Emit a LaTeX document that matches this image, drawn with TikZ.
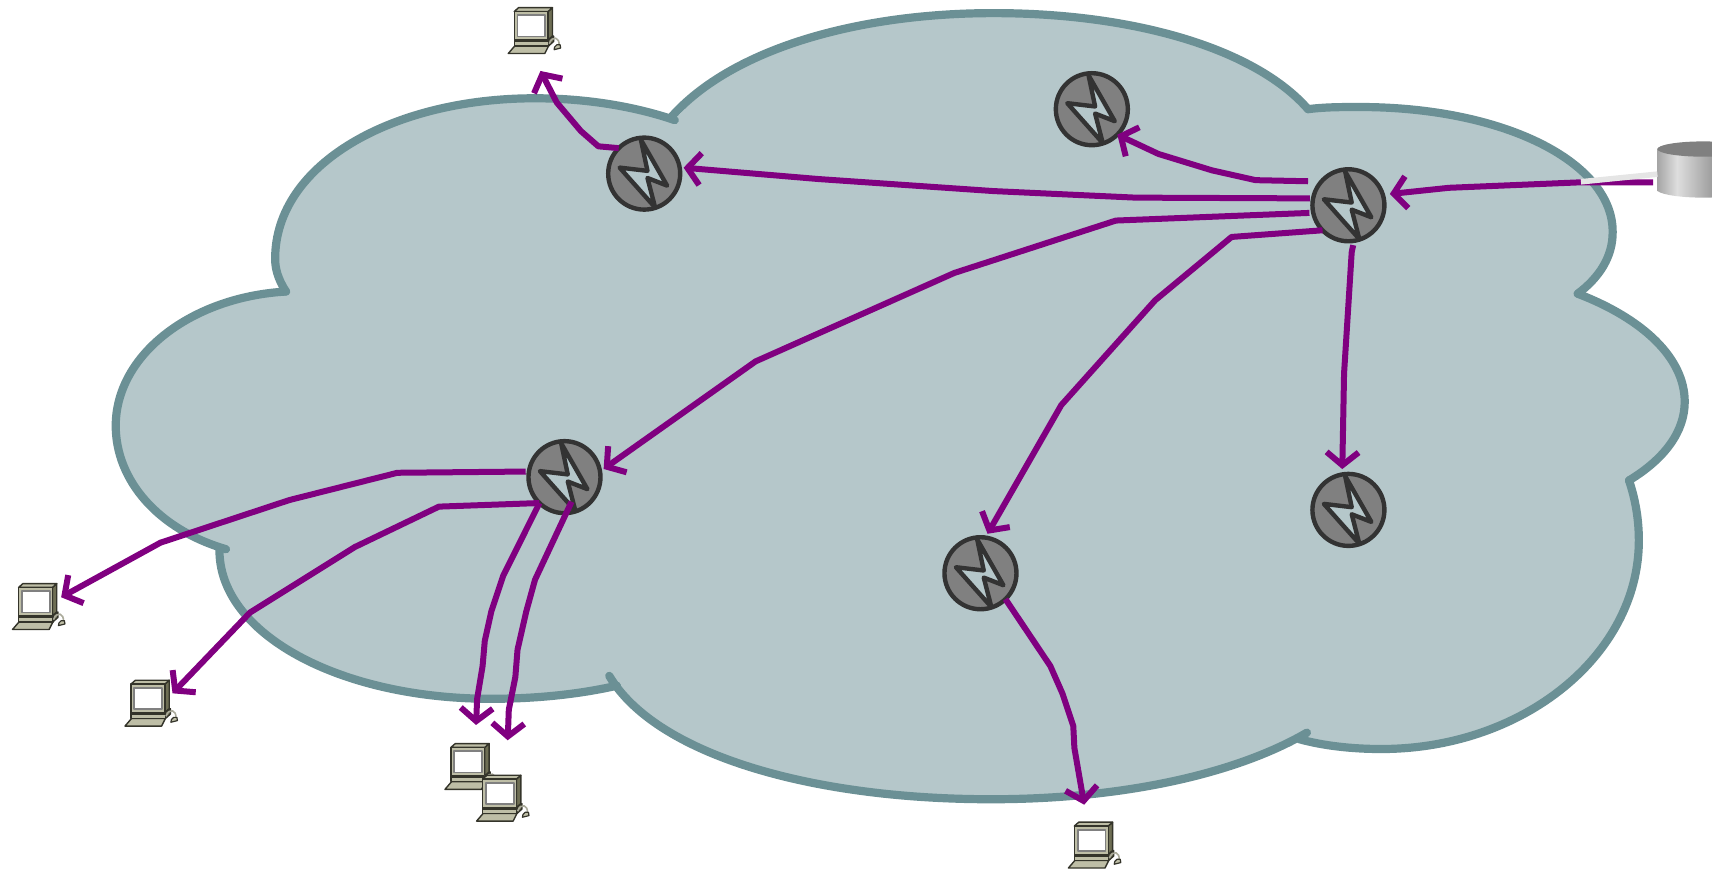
\documentclass[tikz,border=0pt]{standalone}
\usetikzlibrary{arrows.meta}
\definecolor{cloudfill}{HTML}{B5C7CA}
\definecolor{cloudline}{HTML}{6B9095}
\definecolor{link}{HTML}{800080}
\definecolor{routerfill}{HTML}{808080}
\definecolor{routerline}{HTML}{333333}
\definecolor{pcfront}{HTML}{BEBEA6}
\definecolor{pcside}{HTML}{6E6E54}
\definecolor{pcdark}{HTML}{34342A}
\tikzset{
  x=0.5459pt,y=-0.5459pt,
  lobe/.style={draw=cloudline,line width=4.1pt,line cap=round,line join=round},
  linkarrow/.style={draw=link,line width=3pt,line join=round,-{Straight Barb[length=6.5pt,width=16pt]}},
  routernode/.style={circle,draw=routerline,fill=routerfill,line width=2.2pt,minimum size=36pt,inner sep=0pt,outer sep=0pt},
  pcnode/.style={rectangle,minimum width=25.6pt,minimum height=23pt,inner sep=0pt,outer sep=0pt},
  pics/bolt/.style={code={
    \draw[routerline,fill=cloudfill,line width=2.2pt,line join=round]
      (-3,-31) -- (3,-2.5) -- (-22.5,-5.5) -- (10,31) -- (3,4) -- (21,11) -- cycle;
  }},
  pics/pcicon/.style={code={
    \begin{scope}[line width=0.7pt,draw=pcdark,line join=round]
      % keyboard
      \filldraw[fill=pcfront] (-23.5,21) -- (-17.5,14) -- (13.5,14) -- (10,21) -- cycle;
      % base
      \filldraw[fill=pcside] (13.5,8) -- (18,5) -- (18,10) -- (13.5,14) -- cycle;
      \filldraw[fill=pcfront] (-18,8) rectangle (13.5,14);
      \fill[pcdark] (-18,8.5) rectangle (13.5,10.5);
      % monitor
      \filldraw[fill=pcside] (13,-17.5) -- (17,-21) -- (17,5) -- (13,8.5) -- cycle;
      \filldraw[fill=pcfront] (-18,-17.5) -- (-14,-21) -- (17,-21) -- (13,-17.5) -- cycle;
      \filldraw[fill=pcfront] (-18,-17.5) rectangle (13,8.5);
      \filldraw[draw=gray,fill=white,line width=0.9pt] (-15,-14) rectangle (10.5,5.5);
      % mouse and cord
      \draw[pcfront!70!gray,line width=0.8pt] (14,12) .. controls (17,4) and (24,6) .. (23,14);
      \filldraw[fill=pcfront,line width=0.6pt] (19,15) -- (21,13) -- (24,13) -- (24.5,16) -- (18.5,17.5) -- cycle;
    \end{scope}
  }}
}
\begin{document}
\begin{tikzpicture}
\useasboundingbox (0,0) rectangle (1568,797);
% cloud body
\fill[cloudfill]
  (262,267) .. controls (254,255) and (252,245) .. (252,237)
  .. controls (252,150) and (360,90) .. (490,90)
  .. controls (535,90) and (580,97) .. (618,110)
  .. controls (670,45) and (785,12) .. (910,12)
  .. controls (1040,12) and (1150,45) .. (1198,100)
  .. controls (1213,98) and (1230,98) .. (1245,98)
  .. controls (1380,98) and (1478,150) .. (1477,213)
  .. controls (1477,235) and (1465,254) .. (1445,269)
  .. controls (1505,292) and (1543,328) .. (1543,368)
  .. controls (1543,395) and (1525,420) .. (1492,440)
  .. controls (1498,458) and (1501,476) .. (1501,495)
  .. controls (1501,600) and (1395,686) .. (1265,686)
  .. controls (1238,686) and (1212,683) .. (1190,677)
  -- (1197,671)
  .. controls (1130,710) and (1025,732) .. (908,732)
  .. controls (740,732) and (600,690) .. (558,619)
  -- (565,628)
  .. controls (530,636) and (490,640) .. (450,640)
  .. controls (310,640) and (200,580) .. (201,503)
  -- (207,503)
  .. controls (145,485) and (106,440) .. (106,390)
  .. controls (106,325) and (175,272) .. (262,267) -- cycle;
% cloud lobes
\draw[lobe] (262,267) .. controls (254,255) and (252,245) .. (252,237) .. controls (252,150) and (360,90) .. (490,90) .. controls (535,90) and (580,97) .. (618,110);
\draw[lobe] (615,107) .. controls (670,45) and (785,12) .. (910,12) .. controls (1040,12) and (1150,45) .. (1198,100);
\draw[lobe] (1198,100) .. controls (1213,98) and (1230,98) .. (1245,98) .. controls (1380,98) and (1478,150) .. (1477,213) .. controls (1477,235) and (1465,254) .. (1445,269);
\draw[lobe] (1445,269) .. controls (1505,292) and (1543,328) .. (1543,368) .. controls (1543,395) and (1525,420) .. (1492,440);
\draw[lobe] (1492,440) .. controls (1498,458) and (1501,476) .. (1501,495) .. controls (1501,600) and (1395,686) .. (1265,686) .. controls (1238,686) and (1212,683) .. (1190,677);
\draw[lobe] (1197,671) .. controls (1130,710) and (1025,732) .. (908,732) .. controls (740,732) and (600,690) .. (558,619);
\draw[lobe] (565,628) .. controls (530,636) and (490,640) .. (450,640) .. controls (310,640) and (200,580) .. (201,503);
\draw[lobe] (207,503) .. controls (145,485) and (106,440) .. (106,390) .. controls (106,325) and (175,272) .. (262,267);
% routers
\node[routernode] (r1) at (590,159) {}; \pic at (r1) {bolt};
\node[routernode] (r2) at (1000,100) {}; \pic at (r2) {bolt};
\node[routernode] (r3) at (1235,188) {}; \pic at (r3) {bolt};
\node[routernode] (r4) at (517,437) {}; \pic at (r4) {bolt};
\node[routernode] (r5) at (1235,467) {}; \pic at (r5) {bolt};
\node[routernode] (r6) at (898,525) {}; \pic at (r6) {bolt};
% computers
\node[pcnode] (pc1) at (489,28) {}; \pic at (pc1) {pcicon};
\node[pcnode] (pc2) at (35,555.5) {}; \pic at (pc2) {pcicon};
\node[pcnode] (pc3) at (138,644) {}; \pic at (pc3) {pcicon};
\node[pcnode] (pc4) at (431,702) {}; \pic at (pc4) {pcicon};
\node[pcnode] (pc5) at (460,731) {}; \pic at (pc5) {pcicon};
\node[pcnode] (pc6) at (1002,774) {}; \pic at (pc6) {pcicon};
% server
\coordinate (srv) at (1518,155);
\begin{scope}
  \clip (1518,136) -- (1518,175) .. controls (1530,183) and (1590,183) .. (1602,175) -- (1602,136) -- cycle;
  \shade[left color=black!35,right color=black!13] (1518,125) rectangle (1536,185);
  \shade[left color=black!13,right color=black!65] (1536,125) rectangle (1602,185);
\end{scope}
\fill[routerfill] (1560,136.5) ellipse (42 and 7);
% terminals near computers and server
\coordinate (t1) at (495,65);
\coordinate (t2) at (56,547);
\coordinate (t3) at (158,635);
\coordinate (t4) at (436,664);
\coordinate (t5) at (465,678);
\coordinate (t6) at (993,737);
\coordinate (s1) at (1514,167);
\coordinate (s2) at (1448,166.5);
\coordinate (s3) at (1518,159.5);
\coordinate (r4in) at (523.5,459.5);
\coordinate (r3a) at (1198,166);
% links
\draw[linkarrow] (r1.135) -- (548,134) -- (532,120) -- (510,94) -- (t1);
\draw[linkarrow,shorten <=1.6pt,shorten >=2pt] (r3.169) -- (1040,181) -- (910,175) -- (750,164) -- (r1.10);
\draw[linkarrow] (r3a) -- (1150,165) -- (1110,156) -- (1061,141) -- (r2.-45);
\draw[linkarrow,shorten <=1.9pt,shorten >=2.2pt] (r3.192) -- (1022,202) -- (874,250) -- (692,331) -- (r4.9);
\draw[linkarrow] (r3.224) -- (1128,217) -- (1058,275) -- (972,371) -- ([yshift=2pt,xshift=0.4pt]r6.80);
\draw[linkarrow,shorten <=2.2pt,shorten >=2.7pt] (r3.279) -- (1238,231) -- (1231,342) -- (r5.100);
\draw[linkarrow,shorten >=3.5pt] (s1) -- (1447,167) -- (1327,172) -- (r3.17);
\draw[white!90!black,line width=2.8pt] (s2) -- (s3);
\draw[linkarrow,shorten <=1.6pt] (r4.171) -- (364,433) -- (265,458) -- (147,497) -- (t2);
\draw[linkarrow] (r4.226) -- (402,464) -- (325,501) -- (229,561) -- (t3);
\draw[linkarrow] (r4.226) -- (461,527) -- (450,560) -- (444,587) -- (442,610) -- (437,640) -- (t4);
\draw[linkarrow] (r4in) -- (490,531) -- (482,560) -- (474,595) -- (472,620) -- (466,650) -- (t5);
\draw[linkarrow] (r6.-46) -- (962,610) -- (973,635) -- (983,665) -- (984,685) -- (t6);
\end{tikzpicture}
\end{document}
